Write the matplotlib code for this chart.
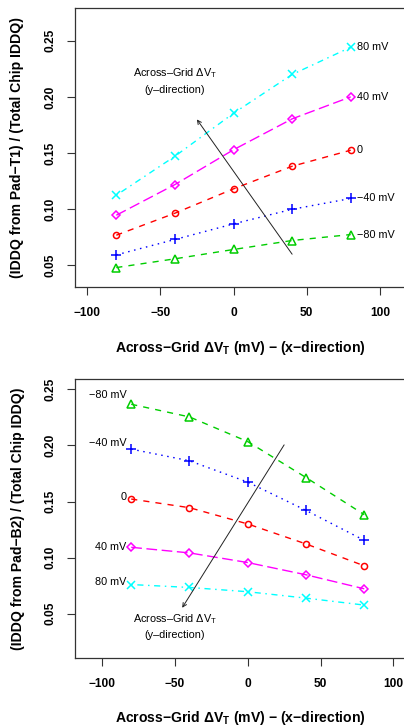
import matplotlib
matplotlib.use("Agg")
import matplotlib.pyplot as plt

plt.rcParams['font.family'] = ['Liberation Sans', 'DejaVu Sans']
plt.rcParams['mathtext.fontset'] = 'custom'
plt.rcParams['mathtext.rm'] = 'Liberation Sans'
plt.rcParams['mathtext.bf'] = 'Liberation Sans:bold'
plt.rcParams['mathtext.it'] = 'Liberation Sans:italic'

# across-grid dVT in x-direction (mV)
dvt_x = [-80, -40, 0, 40, 80]
# y-direction dVT curves
curve_names = ['80 mV', '40 mV', '0', '\u221240 mV', '\u221280 mV']

# IDDQ(Pad-T1) / IDDQ(total)
t1_p80 = [0.1125, 0.1472, 0.1855, 0.2200, 0.2443]
t1_p40 = [0.0947, 0.1220, 0.1530, 0.1805, 0.2001]
t1_0 = [0.0769, 0.0965, 0.1182, 0.1383, 0.1526]
t1_m40 = [0.0594, 0.0731, 0.0870, 0.1000, 0.1096]
t1_m80 = [0.0481, 0.0559, 0.0642, 0.0722, 0.0775]

# IDDQ(Pad-B2) / IDDQ(total)
b2_p80 = [0.0760, 0.0734, 0.0696, 0.0639, 0.0577]
b2_p40 = [0.1092, 0.1042, 0.0956, 0.0847, 0.0722]
b2_0 = [0.1522, 0.1445, 0.1300, 0.1122, 0.0927]
b2_m40 = [0.1967, 0.1863, 0.1673, 0.1421, 0.1154]
b2_m80 = [0.2367, 0.2254, 0.2034, 0.1714, 0.1383]

colors = ['#00FFFF', '#FF00FF', '#FF0000', '#0000FF', '#00CD00']
markers = ['x', 'D', 'o', '+', '^']
msizes = [5.8, 4.4, 4.4, 6.5, 5.2]
u = 1.1
dashes = [(1 * u, 3 * u, 4 * u, 3 * u), (7 * u, 3 * u), (4 * u, 4 * u),
          (1 * u, 3 * u), (4 * u, 4 * u)]

TXT = 7.8
W, H = 404, 727
fig = plt.figure(figsize=(W / 100, H / 100), dpi=100)


def make_axes(l, t, r, b):
    return fig.add_axes([l / W, 1 - b / H, (r - l) / W, (b - t) / H])


def draw_panel(ax, series, xlim, ylim, ylabel):
    for ys, c, m, ms, d in zip(series, colors, markers, msizes, dashes):
        ax.plot(dvt_x, ys, color=c, lw=1.0, dashes=d, marker=m, ms=ms,
                mfc='none', mec=c, mew=1.1)
    ax.set_xlim(*xlim)
    ax.set_ylim(*ylim)
    ax.set_xticks([-100, -50, 0, 50, 100])
    ax.set_yticks([0.05, 0.10, 0.15, 0.20, 0.25])
    ax.set_yticklabels(['0.05', '0.10', '0.15', '0.20', '0.25'],
                       rotation=90, va='center')
    ax.tick_params(length=5.8, width=0.8, labelsize=8.6, color='#333333')
    ax.tick_params(axis='x', pad=8.5)
    ax.tick_params(axis='y', pad=7.5)
    for lab in ax.get_xticklabels() + ax.get_yticklabels():
        lab.set_fontweight('bold')
    for s in ax.spines.values():
        s.set_linewidth(0.9)
        s.set_color('#333333')
    ax.set_xlabel('Across\u2212Grid \u0394V$_\\mathbf{T}$ (mV) \u2212 (x\u2212direction)',
                  fontsize=10.1, fontweight='bold')
    ax.set_ylabel(ylabel, fontsize=10.1, fontweight='bold')
    ax.xaxis.label.set_va('center')
    ax.yaxis.label.set_va('center')


ax1 = make_axes(74.7, 8, 407.0, 287)
draw_panel(ax1, [t1_p80, t1_p40, t1_0, t1_m40, t1_m80],
           (-108.4, 118.4), (0.0308, 0.2792),
           '(IDDQ from Pad\u2212T1) / (Total Chip IDDQ)')
ax1.xaxis.set_label_coords(0.5, -0.2186)
ax1.yaxis.set_label_coords(-0.1736, 0.5)
for ys, name in zip([t1_p80, t1_p40, t1_0, t1_m40, t1_m80], curve_names):
    ax1.annotate(name, (dvt_x[-1], ys[-1]), xytext=(4.5, 0),
                 textcoords='offset points', ha='left', va='center',
                 fontsize=TXT)
ax1.annotate('', xy=(-25, 0.18), xytext=(40, 0.06),
             arrowprops=dict(arrowstyle='->', lw=0.7, color='#222222',
                             shrinkA=0, shrinkB=0, mutation_scale=7))
ax1.text(-40, 0.2209, 'Across\u2013Grid \u0394V$_\\mathrm{T}$', ha='center',
         va='center', fontsize=TXT)
ax1.text(-40, 0.2060, '(y\u2013direction)', ha='center', va='center',
         fontsize=TXT)

ax2 = make_axes(75.3, 379, 405.6, 657.7)
draw_panel(ax2, [b2_p80, b2_p40, b2_0, b2_m40, b2_m80],
           (-118.4, 108.4), (0.0108, 0.2592),
           '(IDDQ from Pad\u2212B2) / (Total Chip IDDQ)')
ax2.xaxis.set_label_coords(0.5, -0.2174)
ax2.yaxis.set_label_coords(-0.1726, 0.5)
b2_label_y = [0.0781, 0.1098, 0.1540, 0.2023, 0.2450]
for ly, name in zip(b2_label_y, curve_names):
    ax2.annotate(name, (dvt_x[0], ly), xytext=(-3.5, 0),
                 textcoords='offset points', ha='right', va='center',
                 fontsize=TXT)
ax2.annotate('', xy=(-45, 0.0553), xytext=(25, 0.2005),
             arrowprops=dict(arrowstyle='->', lw=0.7, color='#222222',
                             shrinkA=0, shrinkB=0, mutation_scale=7))
ax2.text(-50, 0.0456, 'Across\u2013Grid \u0394V$_\\mathrm{T}$', ha='center',
         va='center', fontsize=TXT)
ax2.text(-50, 0.0307, '(y\u2013direction)', ha='center', va='center',
         fontsize=TXT)

fig.savefig('out.png', dpi=100)
